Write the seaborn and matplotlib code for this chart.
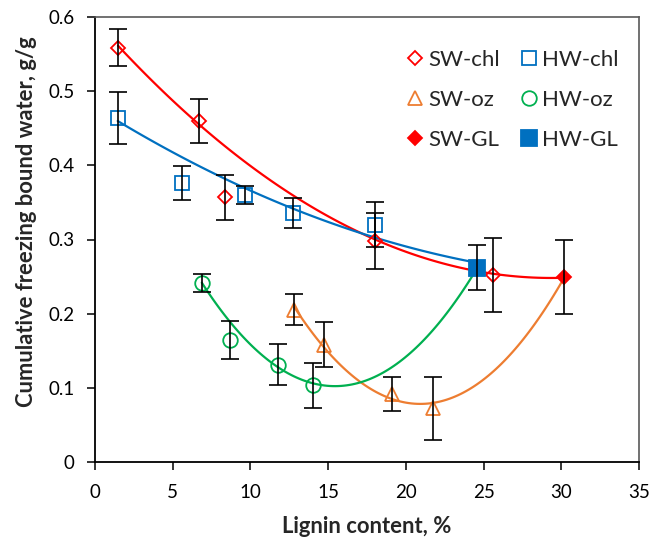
import numpy as np
import pandas as pd
import matplotlib
matplotlib.use("Agg")
import matplotlib.pyplot as plt
import seaborn as sns

# Lignin content (%) and cumulative freezing bound water (g/g) with std. deviations
sw_chl_x = [1.48, 6.69, 8.35, 18.04, 25.63]
sw_chl_y = [0.559, 0.460, 0.357, 0.298, 0.252]
sw_chl_err = [0.025, 0.030, 0.030, 0.038, 0.050]

sw_gl_x = [30.2]
sw_gl_y = [0.250]
sw_gl_err = [0.050]

hw_chl_x = [1.46, 5.58, 9.65, 12.74, 18.04]
hw_chl_y = [0.464, 0.376, 0.360, 0.336, 0.320]
hw_chl_err = [0.035, 0.023, 0.012, 0.020, 0.030]

hw_gl_x = [24.6]
hw_gl_y = [0.262]
hw_gl_err = [0.030]

sw_oz_x = [12.83, 14.72, 19.13, 21.73]
sw_oz_y = [0.205, 0.158, 0.091, 0.072]
sw_oz_err = [0.021, 0.030, 0.023, 0.043]

hw_oz_x = [6.87, 8.69, 11.76, 14.05]
hw_oz_y = [0.241, 0.164, 0.131, 0.103]
hw_oz_err = [0.012, 0.026, 0.028, 0.030]

# replicates left out of the trend fits (index within each series)
sw_chl_fit_skip = [2]
hw_chl_fit_skip = [1]
hw_oz_fit_skip = [1]
sw_oz_fit_skip = []

x_ticks = [0, 5, 10, 15, 20, 25, 30, 35]
y_ticks = [0, 0.1, 0.2, 0.3, 0.4, 0.5, 0.6]
y_tick_labels = ["0", "0.1", "0.2", "0.3", "0.4", "0.5", "0.6"]

RED = "#FF0000"
BLUE = "#0070C0"
ORANGE = "#ED7D31"
GREEN = "#00B050"

sns.set_style("ticks")
plt.rcParams["font.family"] = ["Lato", "DejaVu Sans"]

fig = plt.figure(figsize=(6.52, 5.40), dpi=100)
ax = fig.add_axes([95 / 652, 1 - 461.7 / 540, 544 / 652, 444.4 / 540])


def fit_frame(xs, ys, skip, end_x, end_y):
    keep = [i for i in range(len(xs)) if i not in skip]
    return pd.DataFrame({"lignin": [xs[i] for i in keep] + end_x,
                         "water": [ys[i] for i in keep] + end_y})


# second-order polynomial trend lines, each ending at its GL sample
trends = [
    (fit_frame(sw_chl_x, sw_chl_y, sw_chl_fit_skip, sw_gl_x, sw_gl_y), RED),
    (fit_frame(hw_chl_x, hw_chl_y, hw_chl_fit_skip, hw_gl_x, hw_gl_y), BLUE),
    (fit_frame(sw_oz_x, sw_oz_y, sw_oz_fit_skip, sw_gl_x, sw_gl_y), ORANGE),
    (fit_frame(hw_oz_x, hw_oz_y, hw_oz_fit_skip, hw_gl_x, hw_gl_y), GREEN),
]
for df, col in trends:
    sns.regplot(data=df, x="lignin", y="water", order=2, ci=None, scatter=False,
                truncate=True, line_kws=dict(color=col, lw=1.6, zorder=2), ax=ax)

series = [
    ("SW-chl", sw_chl_x, sw_chl_y, sw_chl_err, "D", RED, "none", 7.2),
    ("SW-oz", sw_oz_x, sw_oz_y, sw_oz_err, "^", ORANGE, "none", 9.5),
    ("SW-GL", sw_gl_x, sw_gl_y, sw_gl_err, "D", RED, RED, 7.6),
    ("HW-chl", hw_chl_x, hw_chl_y, hw_chl_err, "s", BLUE, "none", 10),
    ("HW-oz", hw_oz_x, hw_oz_y, hw_oz_err, "o", GREEN, "none", 10.5),
    ("HW-GL", hw_gl_x, hw_gl_y, hw_gl_err, "s", BLUE, BLUE, 11),
]
handles = []
for name, sx, sy, se, mk, col, fc, ms in series:
    h, = ax.plot(sx, sy, linestyle="none", marker=mk, markersize=ms,
                 markeredgecolor=col, markerfacecolor=fc, markeredgewidth=1.3,
                 label=name, zorder=3)
    ax.errorbar(sx, sy, yerr=se, fmt="none", ecolor="black", elinewidth=1.2,
                capsize=6.5, capthick=1.2, zorder=4)
    handles.append(h)

ax.set_xlim(0, 35)
ax.set_ylim(0, 0.6)
ax.set_xticks(x_ticks)
ax.set_xticklabels([str(t) for t in x_ticks])
ax.set_yticks(y_ticks)
ax.set_yticklabels(y_tick_labels)
ax.tick_params(axis="both", direction="out", length=5.8, width=1.1,
               color="black", labelsize=13.5, labelcolor="black")
ax.tick_params(axis="x", pad=10)
ax.tick_params(axis="y", pad=9)

for side in ("left", "bottom"):
    ax.spines[side].set_color("black")
    ax.spines[side].set_linewidth(1.3)
for side in ("top", "right"):
    ax.spines[side].set_visible(True)
    ax.spines[side].set_color("#595959")
    ax.spines[side].set_linewidth(1.2)

ax.set_xlabel("Lignin content, %", fontsize=15.8, fontweight="bold")
ax.set_ylabel("Cumulative freezing bound water, g/g", fontsize=15.8, fontweight="bold")
ax.xaxis.set_label_coords(0.5, -0.123)
ax.yaxis.set_label_coords(-0.107, 0.54)

leg = ax.legend(handles=handles, ncol=2, frameon=False, fontsize=16,
                loc="upper left", bbox_to_anchor=(408 / 652, 1 - 50 / 540),
                bbox_transform=fig.transFigure, borderpad=0, borderaxespad=0,
                handlelength=0.6, handletextpad=0.3, columnspacing=1.0,
                labelspacing=0.9)

fig.savefig("out.png", dpi=100)
